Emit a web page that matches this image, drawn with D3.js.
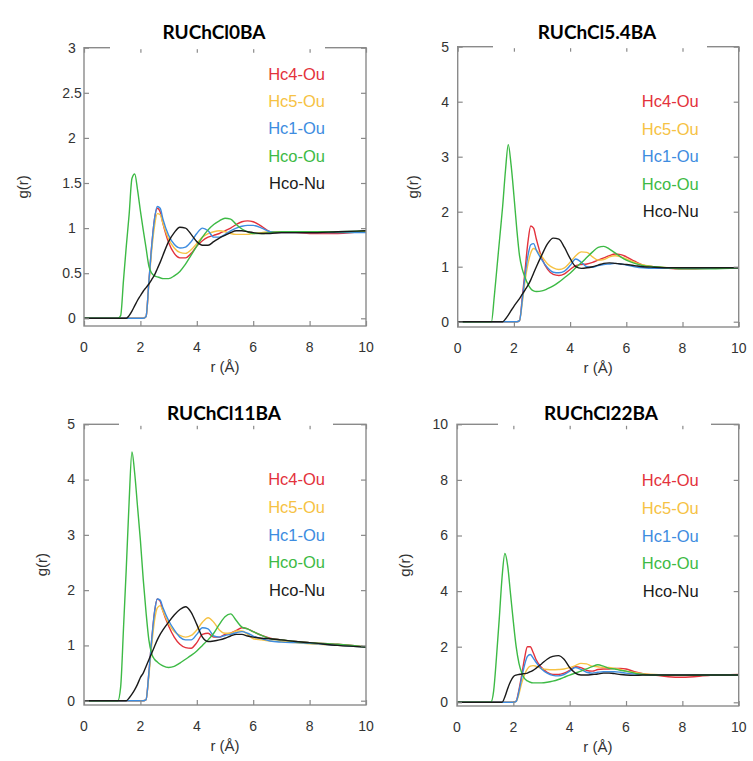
<!DOCTYPE html>
<html>
<head>
<meta charset="utf-8">
<script src="https://cdn.jsdelivr.net/npm/d3@7"></script>
<style>
  html, body { margin: 0; padding: 0; background: #fff; }
  svg { display: block; }
</style>
</head>
<body>
<svg id="chart" width="753" height="761"></svg>
<script>
// ---------- DATA ----------
const rGrid = [0, 1.2, 1.3, 1.4, 1.5, 1.6, 1.7, 1.8, 1.9,
  2.0, 2.1, 2.2, 2.3, 2.4, 2.5, 2.6, 2.7, 2.8,
  3.0, 3.2, 3.4, 3.6, 3.8, 4.0, 4.2, 4.4, 4.6, 4.8, 5.0, 5.2, 5.4, 5.6, 5.8, 6.0,
  6.3, 6.6, 7.0, 7.5, 8.0, 9.0, 10];

const seriesNames = ["Hc4-Ou", "Hc5-Ou", "Hc1-Ou", "Hco-Ou", "Hco-Nu"];
const seriesColors = ["#e3323c", "#f6c244", "#3d8ce0", "#3dba45", "#1a1a1a"];

const panelTitles = ["RUChCl0BA", "RUChCl5.4BA", "RUChCl11BA", "RUChCl22BA"];
const xTicks = [0, 2, 4, 6, 8, 10];
const yMaxes = [3, 5, 5, 10];
const yTicksP1 = [0, 0.5, 1, 1.5, 2, 2.5, 3];
const yTicksP2 = [0, 1, 2, 3, 4, 5];
const yTicksP3 = [0, 1, 2, 3, 4, 5];
const yTicksP4 = [0, 2, 4, 6, 8, 10];
const xLabel = "r (Å)";
const yLabel = "g(r)";

// Panel 1: RUChCl0BA
const p1Hc4 = [0,0,0,0,0,0,0,0,0,0,0, 0.02,0.4,0.8,1.1,1.22,1.18,1.05, 0.84,0.72,0.67,0.67,0.72,0.8,0.86,0.9,0.92,0.94,0.97,1.0,1.04,1.07,1.08,1.07, 1.02,0.96,0.95,0.95,0.94,0.94,0.97];
const p1Hc5 = [0,0,0,0,0,0,0,0,0,0,0, 0.02,0.38,0.75,1.02,1.16,1.15,1.05, 0.88,0.78,0.73,0.72,0.76,0.83,0.9,0.94,0.96,0.97,0.96,0.94,0.93,0.93,0.93,0.94, 0.95,0.96,0.96,0.96,0.96,0.96,0.96];
const p1Hc1 = [0,0,0,0,0,0,0,0,0,0,0, 0.02,0.4,0.8,1.1,1.24,1.22,1.1, 0.92,0.82,0.78,0.79,0.85,0.94,1.0,0.97,0.9,0.9,0.93,0.97,1.0,1.02,1.03,1.03, 1.0,0.96,0.95,0.95,0.95,0.95,0.95];
const p1HcoOu = [0,0,0.03,0.42,0.8,1.15,1.55,1.6,1.42, 1.19,0.98,0.78,0.58,0.5,0.47,0.46,0.45,0.44, 0.44,0.47,0.52,0.6,0.7,0.8,0.9,0.98,1.04,1.08,1.11,1.1,1.04,0.99,0.96,0.94, 0.94,0.95,0.96,0.96,0.96,0.96,0.97];
const p1HcoNu = [0,0,0,0,0,0.03,0.08,0.14,0.2, 0.25,0.3,0.34,0.38,0.43,0.48,0.55,0.62,0.7, 0.85,0.95,1.01,1.0,0.93,0.85,0.81,0.81,0.85,0.89,0.92,0.95,0.97,0.97,0.96,0.95, 0.94,0.94,0.95,0.95,0.95,0.96,0.97];

// Panel 2: RUChCl5.4BA
const p2Hc4 = [0,0,0,0,0,0,0,0,0,0,0, 0.02,0.45,0.95,1.45,1.74,1.7,1.5, 1.15,0.95,0.86,0.84,0.87,0.95,1.02,1.04,1.05,1.08,1.12,1.16,1.2,1.23,1.22,1.18, 1.1,1.03,1.0,0.97,0.96,0.97,0.98];
const p2Hc5 = [0,0,0,0,0,0,0,0,0,0,0, 0.02,0.35,0.75,1.05,1.25,1.33,1.3, 1.18,1.05,0.98,0.95,0.98,1.08,1.2,1.27,1.26,1.18,1.12,1.13,1.18,1.2,1.18,1.14, 1.08,1.03,1.0,0.98,0.97,0.97,0.98];
const p2Hc1 = [0,0,0,0,0,0,0,0,0,0,0, 0.02,0.4,0.85,1.2,1.4,1.42,1.3, 1.12,0.98,0.9,0.89,0.92,1.02,1.14,1.08,1.0,0.99,1.02,1.04,1.05,1.06,1.05,1.03, 1.0,0.98,0.97,0.97,0.97,0.97,0.98];
const p2HcoOu = [0,0,0.45,1.0,1.55,2.1,2.75,3.22,2.85, 2.3,1.7,1.2,0.95,0.8,0.68,0.6,0.56,0.55, 0.56,0.6,0.65,0.72,0.8,0.88,0.98,1.07,1.17,1.27,1.35,1.37,1.32,1.25,1.18,1.12, 1.06,1.02,1.0,0.98,0.96,0.96,0.98];
const p2HcoNu = [0,0,0,0,0,0,0.05,0.12,0.2, 0.28,0.35,0.42,0.5,0.58,0.66,0.76,0.88,1.0, 1.22,1.42,1.52,1.5,1.35,1.15,1.0,0.97,0.98,1.0,1.03,1.06,1.07,1.06,1.05,1.04, 1.02,1.0,0.99,0.98,0.98,0.98,0.98];

// Panel 3: RUChCl11BA
const p3Hc4 = [0,0,0,0,0,0,0,0,0,0,0, 0.02,0.5,1.1,1.6,1.84,1.8,1.62, 1.35,1.15,1.02,0.96,0.95,1.05,1.2,1.22,1.15,1.15,1.2,1.22,1.27,1.32,1.3,1.25, 1.18,1.13,1.1,1.07,1.05,1.02,0.97];
const p3Hc5 = [0,0,0,0,0,0,0,0,0,0,0, 0.02,0.45,1.0,1.45,1.68,1.72,1.62, 1.4,1.25,1.18,1.15,1.18,1.28,1.42,1.5,1.42,1.28,1.22,1.22,1.26,1.26,1.2,1.12, 1.1,1.08,1.07,1.05,1.03,1.0,0.97];
const p3Hc1 = [0,0,0,0,0,0,0,0,0,0,0, 0.02,0.5,1.1,1.6,1.84,1.82,1.68, 1.45,1.28,1.15,1.1,1.1,1.2,1.32,1.3,1.17,1.15,1.18,1.2,1.23,1.25,1.22,1.17, 1.12,1.08,1.06,1.05,1.04,1.0,0.97];
const p3HcoOu = [0,0,0.25,1.3,2.4,3.6,4.5,4.1,3.5, 2.9,2.2,1.6,1.1,0.85,0.75,0.7,0.66,0.63, 0.6,0.62,0.68,0.75,0.82,0.9,1.0,1.1,1.22,1.38,1.52,1.57,1.45,1.33,1.3,1.25, 1.18,1.12,1.1,1.07,1.05,1.02,0.97];
const p3HcoNu = [0,0,0,0,0,0.05,0.12,0.2,0.3, 0.42,0.5,0.62,0.74,0.86,0.98,1.1,1.2,1.28, 1.42,1.55,1.65,1.7,1.6,1.38,1.15,1.07,1.08,1.1,1.13,1.17,1.2,1.2,1.17,1.15, 1.13,1.12,1.1,1.07,1.05,1.0,0.97];

// Panel 4: RUChCl22BA
const p4Hc4 = [0,0,0,0,0,0,0,0,0,0, 0.05,0.45,1.0,1.6,2.0,2.0,1.8,1.55, 1.25,1.08,1.0,1.0,1.05,1.15,1.28,1.25,1.15,1.12,1.18,1.2,1.2,1.22,1.22,1.2, 1.1,1.03,0.98,0.92,0.9,0.97,1.0];
const p4Hc5 = [0,0,0,0,0,0,0,0,0,0, 0.03,0.3,0.7,1.0,1.2,1.3,1.32,1.3, 1.22,1.18,1.17,1.18,1.2,1.25,1.32,1.4,1.38,1.3,1.28,1.25,1.25,1.22,1.18,1.12, 1.07,1.03,1.0,0.98,0.98,0.98,0.98];
const p4Hc1 = [0,0,0,0,0,0,0,0,0,0, 0.03,0.4,0.9,1.35,1.65,1.72,1.6,1.45, 1.2,1.05,0.97,0.95,1.0,1.12,1.25,1.18,1.08,1.05,1.08,1.1,1.1,1.1,1.08,1.05, 1.02,1.0,0.98,0.98,0.98,0.98,0.98];
const p4HcoOu = [0,0,0.4,1.6,3.0,4.5,5.35,4.9,3.9, 2.9,2.0,1.4,1.05,0.85,0.77,0.72,0.7,0.7, 0.7,0.72,0.76,0.82,0.9,0.98,1.05,1.12,1.2,1.28,1.35,1.3,1.22,1.2,1.15,1.12, 1.05,1.0,0.98,0.97,0.97,0.98,0.98];
const p4HcoNu = [0,0,0,0,0,0,0.2,0.5,0.75, 0.92,0.98,1.0,1.02,1.03,1.05,1.1,1.15,1.22, 1.38,1.55,1.65,1.68,1.55,1.25,1.05,0.98,0.98,1.0,1.02,1.05,1.05,1.03,1.0,0.98, 0.97,0.98,0.98,0.98,0.98,0.98,0.98];

const panelSeries = [
  [p1Hc4, p1Hc5, p1Hc1, p1HcoOu, p1HcoNu],
  [p2Hc4, p2Hc5, p2Hc1, p2HcoOu, p2HcoNu],
  [p3Hc4, p3Hc5, p3Hc1, p3HcoOu, p3HcoNu],
  [p4Hc4, p4Hc5, p4Hc1, p4HcoOu, p4HcoNu]
];
const panelYTicks = [yTicksP1, yTicksP2, yTicksP3, yTicksP4];

// ---------- LAYOUT ----------
const layout = [
  {left: 84, right: 366, top: 47.7, zero: 318.3, bottom: 326, boxL: 110, boxR: 325, titleX: 214, titleY: 32.5,
   legX: 325, legY: 74, legDy: 27.3, gX: 23, yLabAnchor: "middle", yLabX: 72},
  {left: 457.7, right: 738.7, top: 46.7, zero: 321.7, bottom: 327, boxL: 493, boxR: 707, titleX: 597, titleY: 32.5,
   legX: 698.7, legY: 101.7, legDy: 27.5, gX: 412.7, yLabAnchor: "end", yLabX: 449},
  {left: 84, right: 366, top: 424.3, zero: 700.7, bottom: 705, boxL: 119, boxR: 333, titleX: 224, titleY: 413.5,
   legX: 325, legY: 479.3, legDy: 27.8, gX: 42, yLabAnchor: "end", yLabX: 75},
  {left: 457, right: 738.7, top: 424.3, zero: 702.3, bottom: 706, boxL: 498, boxR: 711, titleX: 601, titleY: 413.5,
   legX: 698.7, legY: 480, legDy: 27.9, gX: 404.3, yLabAnchor: "end", yLabX: 448}
];

const svg = d3.select("#chart");
const frameColor = "#8a8a8a";
const textColor = "#333";
const font = "'Liberation Sans', Arial, Helvetica, sans-serif";

layout.forEach((L, pi) => {
  const x = d3.scaleLinear().domain([0, 10]).range([L.left, L.right]);
  const y = d3.scaleLinear().domain([0, yMaxes[pi]]).range([L.zero, L.top]);
  const g = svg.append("g");

  const clipId = "clip" + pi;
  svg.append("defs").append("clipPath").attr("id", clipId)
    .append("rect").attr("x", L.left).attr("y", L.top).attr("width", L.right - L.left).attr("height", L.bottom - L.top);

  // curves
  const line = d3.line().x((d, i) => x(rGrid[i])).y(d => y(d)).curve(d3.curveMonotoneX);
  const cg = g.append("g").attr("clip-path", `url(#${clipId})`);
  panelSeries[pi].forEach((vals, si) => {
    cg.append("path").attr("d", line(vals)).attr("fill", "none")
      .attr("stroke", seriesColors[si]).attr("stroke-width", 1.4).attr("stroke-linejoin", "round");
  });

  // frame
  g.append("rect").attr("x", L.left).attr("y", L.top).attr("width", L.right - L.left).attr("height", L.bottom - L.top)
    .attr("fill", "none").attr("stroke", frameColor).attr("stroke-width", 1.4);

  // axes with inward ticks (bottom/top, left/right)
  const tickLen = 5;
  const axB = d3.axisBottom(x).tickValues(xTicks).tickSize(-tickLen).tickFormat("");
  const axT = d3.axisTop(x).tickValues(xTicks).tickSize(-tickLen).tickFormat("");
  const axL = d3.axisLeft(y).tickValues(panelYTicks[pi]).tickSize(-tickLen).tickFormat("");
  const axR = d3.axisRight(y).tickValues(panelYTicks[pi]).tickSize(-tickLen).tickFormat("");
  [[axB, `translate(0,${L.bottom})`], [axT, `translate(0,${L.top})`],
   [axL, `translate(${L.left},0)`], [axR, `translate(${L.right},0)`]].forEach(([ax, tr]) => {
    const a = g.append("g").attr("transform", tr).call(ax);
    a.select(".domain").remove();
    a.selectAll("line").attr("stroke", frameColor).attr("stroke-width", 1.2);
  });

  // x tick labels
  g.selectAll(".xt").data(xTicks).enter().append("text")
    .attr("x", d => x(d)).attr("y", L.bottom + 21).attr("dy", "0.35em")
    .attr("text-anchor", "middle").attr("font-family", font).attr("font-size", 14).attr("fill", textColor)
    .text(d => d);
  // y tick labels
  g.selectAll(".yt").data(panelYTicks[pi]).enter().append("text")
    .attr("x", L.yLabX).attr("y", d => y(d)).attr("dy", "0.35em")
    .attr("text-anchor", L.yLabAnchor).attr("font-family", font).attr("font-size", 14).attr("fill", textColor)
    .text(d => d);

  // axis titles
  g.append("text").attr("x", (L.left + L.right) / 2).attr("y", L.bottom + 41).attr("dy", "0.35em")
    .attr("text-anchor", "middle").attr("font-family", font).attr("font-size", 15).attr("fill", textColor)
    .text(xLabel);
  g.append("text").attr("transform", `translate(${L.gX},${(L.top + L.bottom) / 2}) rotate(-90)`)
    .attr("dy", "0.35em").attr("text-anchor", "middle").attr("font-family", font).attr("font-size", 15)
    .attr("fill", textColor).text(yLabel);

  // legend
  seriesNames.forEach((name, si) => {
    g.append("text").attr("x", L.legX).attr("y", L.legY + si * L.legDy).attr("dy", "0.35em")
      .attr("text-anchor", "end").attr("font-family", font).attr("font-size", 16.5)
      .attr("fill", seriesColors[si]).text(name);
  });

  // title box covering top frame
  g.append("rect").attr("x", L.boxL).attr("y", L.top - 34).attr("width", L.boxR - L.boxL).attr("height", 35.5)
    .attr("fill", "#fff");
  g.append("text").attr("x", L.titleX).attr("y", L.titleY).attr("dy", "0.35em")
    .attr("text-anchor", "middle").attr("font-family", "Lato, 'Open Sans', sans-serif").attr("font-weight", 700)
    .attr("font-size", 19).attr("fill", "#000").text(panelTitles[pi]);
});
</script>
</body>
</html>
